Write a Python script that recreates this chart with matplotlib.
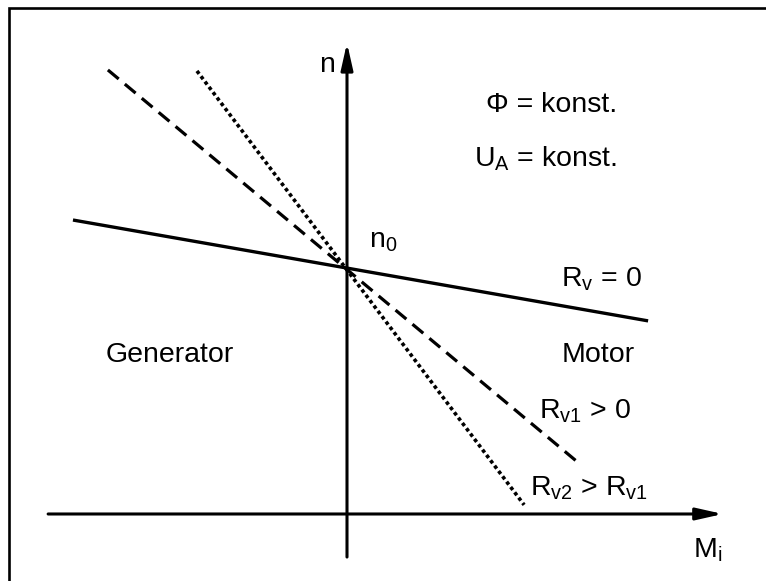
import matplotlib.pyplot as plt
from matplotlib.patches import Rectangle

plt.rcParams['font.family'] = ['Liberation Sans', 'DejaVu Sans']
plt.rcParams['mathtext.fontset'] = 'custom'
plt.rcParams['mathtext.rm'] = 'Liberation Sans'
plt.rcParams['mathtext.it'] = 'Liberation Sans'

# Drehzahl-Kennlinien n(M_i), normiert auf n0 = 1
M_rv0 = [-1.114, 1.224]
n_rv0 = [1.195, 0.785]

M_rv1 = [-0.972, 0.947]
n_rv1 = [1.805, 0.203]

M_rv2 = [-0.610, 0.720]
n_rv2 = [1.801, 0.037]

# Achsenbereiche (M-Achse, n-Achse)
M_achse = [-1.215, 1.528]
n_achse = [-0.175, 1.915]

fig = plt.figure(figsize=(7.66, 5.81), dpi=100)
ax = fig.add_axes([0, 0, 1, 1])
ax.set_xlim(-1.4106, 1.7033)
ax.set_ylim(-0.2724, 2.0894)
ax.axis('off')

# Rahmen (nur oben/links sichtbar)
fig.patches.append(Rectangle((8.5 / 766, -0.1), 1.2, 1 - 7.5 / 581 + 0.1,
                             transform=fig.transFigure, fill=False,
                             lw=1.9, ec='black'))

# Achsen mit Pfeilspitzen
pfeil = dict(arrowstyle='-|>,head_length=0.8,head_width=0.18',
             mutation_scale=20, lw=2.2, color='black',
             shrinkA=0, shrinkB=0)
ax.annotate('', xy=(M_achse[1], 0), xytext=(M_achse[0], 0), arrowprops=pfeil)
ax.annotate('', xy=(0, n_achse[1]), xytext=(0, n_achse[0]), arrowprops=pfeil)

# Kennlinien
ax.plot(M_rv0, n_rv0, color='black', lw=2.4, solid_capstyle='butt')
ax.plot(M_rv1, n_rv1, color='black', lw=2.3, dashes=(4.4, 2.5))
ax.plot(M_rv2, n_rv2, color='black', lw=2.6, dashes=(1.0, 0.85))

fs = 20.5
ax.text(-0.081, 1.797, 'n', fontsize=fs, ha='center', va='baseline')
ax.text(0.0894, 1.085, r'$\mathregular{n_0}$', fontsize=fs, ha='left', va='baseline')
ax.text(0.833, 1.634, '\u03a6 = konst.', fontsize=fs, ha='center', va='baseline')
ax.text(0.805, 1.411, r'$\mathregular{U_A}$ = konst.', fontsize=fs, ha='center', va='baseline')
ax.text(1.033, 0.923, r'$\mathregular{R_v}$ = 0', fontsize=fs, ha='center', va='baseline')
ax.text(-0.720, 0.618, 'Generator', fontsize=fs, ha='center', va='baseline')
ax.text(1.020, 0.618, 'Motor', fontsize=fs, ha='center', va='baseline')
ax.text(0.967, 0.390, r'$\mathregular{R_{v1}}$ > 0', fontsize=fs, ha='center', va='baseline')
ax.text(0.984, 0.077, r'$\mathregular{R_{v2}}$ > $\mathregular{R_{v1}}$', fontsize=fs,
        ha='center', va='baseline')
ax.text(1.407, -0.175, r'$\mathregular{M_i}$', fontsize=fs, ha='left', va='baseline')

fig.savefig('out.png', dpi=100)
